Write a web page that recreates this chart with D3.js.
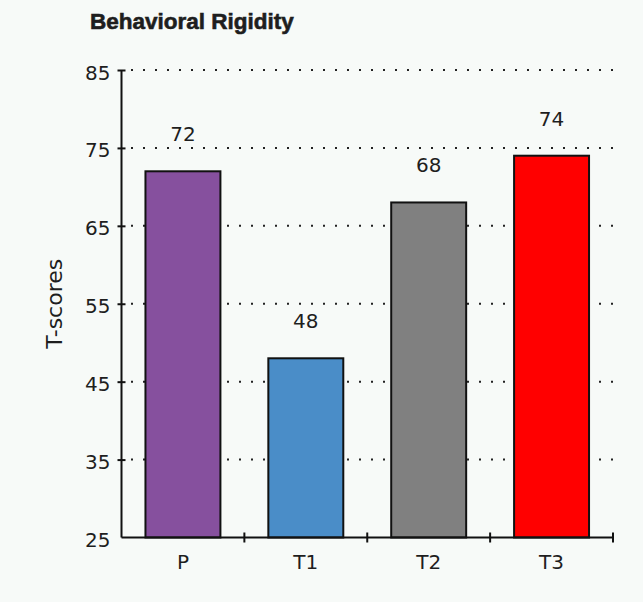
<!DOCTYPE html>
<html>
<head>
<meta charset="utf-8">
<script src="https://cdn.jsdelivr.net/npm/d3@7"></script>
<style>
  html, body { margin: 0; padding: 0; background: #f7faf8; }
  svg { display: block; }
</style>
</head>
<body>
<script>
const title = "Behavioral Rigidity";
const yTitle = "T-scores";
const categories = ["P", "T1", "T2", "T3"];
const values = [72, 48, 68, 74];
const colors = ["#86509e", "#4a8dc8", "#808080", "#ff0000"];
const yTicks = [25, 35, 45, 55, 65, 75, 85];
const yDomain = [25, 85];

const W = 643, H = 602;
const svg = d3.select("body").append("svg").attr("width", W).attr("height", H)
  .style("font-family", "'DejaVu Sans', sans-serif");
svg.append("rect").attr("width", W).attr("height", H).attr("fill", "#f7faf8");

const x0 = 121.5, x1 = 613, yTop = 70, yBot = 537.5;
const x = d3.scaleBand().domain(categories).range([x0, x1]).paddingInner(0.39).paddingOuter(0.195);
const y = d3.scaleLinear().domain(yDomain).range([yBot, yTop]);

// gridlines (dotted)
svg.append("g").selectAll("line")
  .data(yTicks.filter(t => t !== yDomain[0]))
  .join("line")
  .attr("x1", 131).attr("x2", x1 + 1)
  .attr("y1", d => y(d)).attr("y2", d => y(d))
  .attr("stroke", "#222").attr("stroke-width", 2)
  .attr("stroke-dasharray", "2 10");

// bars
svg.append("g").selectAll("rect")
  .data(categories)
  .join("rect")
  .attr("x", d => x(d))
  .attr("width", x.bandwidth())
  .attr("y", (d, i) => y(values[i]))
  .attr("height", (d, i) => yBot - y(values[i]))
  .attr("fill", (d, i) => colors[i])
  .attr("stroke", "#111").attr("stroke-width", 2);

// value labels
svg.append("g").selectAll("text")
  .data(categories)
  .join("text")
  .attr("x", d => x(d) + x.bandwidth() / 2)
  .attr("y", (d, i) => y(values[i]) - 30)
  .attr("text-anchor", "middle")
  .attr("font-size", 20).attr("fill", "#1e1e1e")
  .text((d, i) => values[i]);

// y axis
const yAxis = d3.axisLeft(y).tickValues(yTicks).tickSize(0).tickPadding(11);
const gy = svg.append("g").attr("transform", `translate(${x0},0)`).call(yAxis);
gy.attr("font-family", null).attr("font-size", null);
gy.select(".domain").attr("stroke", "#111").attr("stroke-width", 2).attr("d", `M0,${yTop}V${yBot}`);
gy.selectAll(".tick text").attr("font-size", 20).attr("fill", "#1e1e1e").attr("dy", "0.45em");
gy.selectAll(".tick").filter(d => d !== yDomain[0]).append("line")
  .attr("x1", -4).attr("x2", 4).attr("stroke", "#111").attr("stroke-width", 2);

// x axis
const xAxis = d3.axisBottom(x).tickSize(0).tickPadding(17);
const gx = svg.append("g").attr("transform", `translate(0,${yBot})`).call(xAxis);
gx.attr("font-family", null).attr("font-size", null);
gx.select(".domain").attr("stroke", "#111").attr("stroke-width", 2).attr("d", `M${x0},0H${x1}`);
gx.selectAll(".tick text").attr("font-size", 20).attr("fill", "#1e1e1e");
const boundaries = categories.slice(1).map(c => x(c) - x.step() * x.paddingInner() / 2).concat([x1]);
gx.selectAll("line.bound").data(boundaries).join("line").attr("class", "bound")
  .attr("x1", d => d).attr("x2", d => d).attr("y1", -5).attr("y2", 5)
  .attr("stroke", "#111").attr("stroke-width", 2);

// y title
svg.append("text")
  .attr("transform", `translate(54,${(yTop + yBot) / 2}) rotate(-90)`)
  .attr("text-anchor", "middle").attr("dy", "0.36em")
  .attr("font-size", 22).attr("fill", "#1e1e1e")
  .text(yTitle);

// title
svg.append("text")
  .attr("x", 90).attr("y", 29)
  .style("font-family", "'Liberation Sans', Arial, sans-serif")
  .attr("font-size", 22.5).attr("font-weight", "bold")
  .attr("fill", "#1e1e1e")
  .attr("stroke", "#1e1e1e").attr("stroke-width", 0.6)
  .text(title);
</script>
</body>
</html>
